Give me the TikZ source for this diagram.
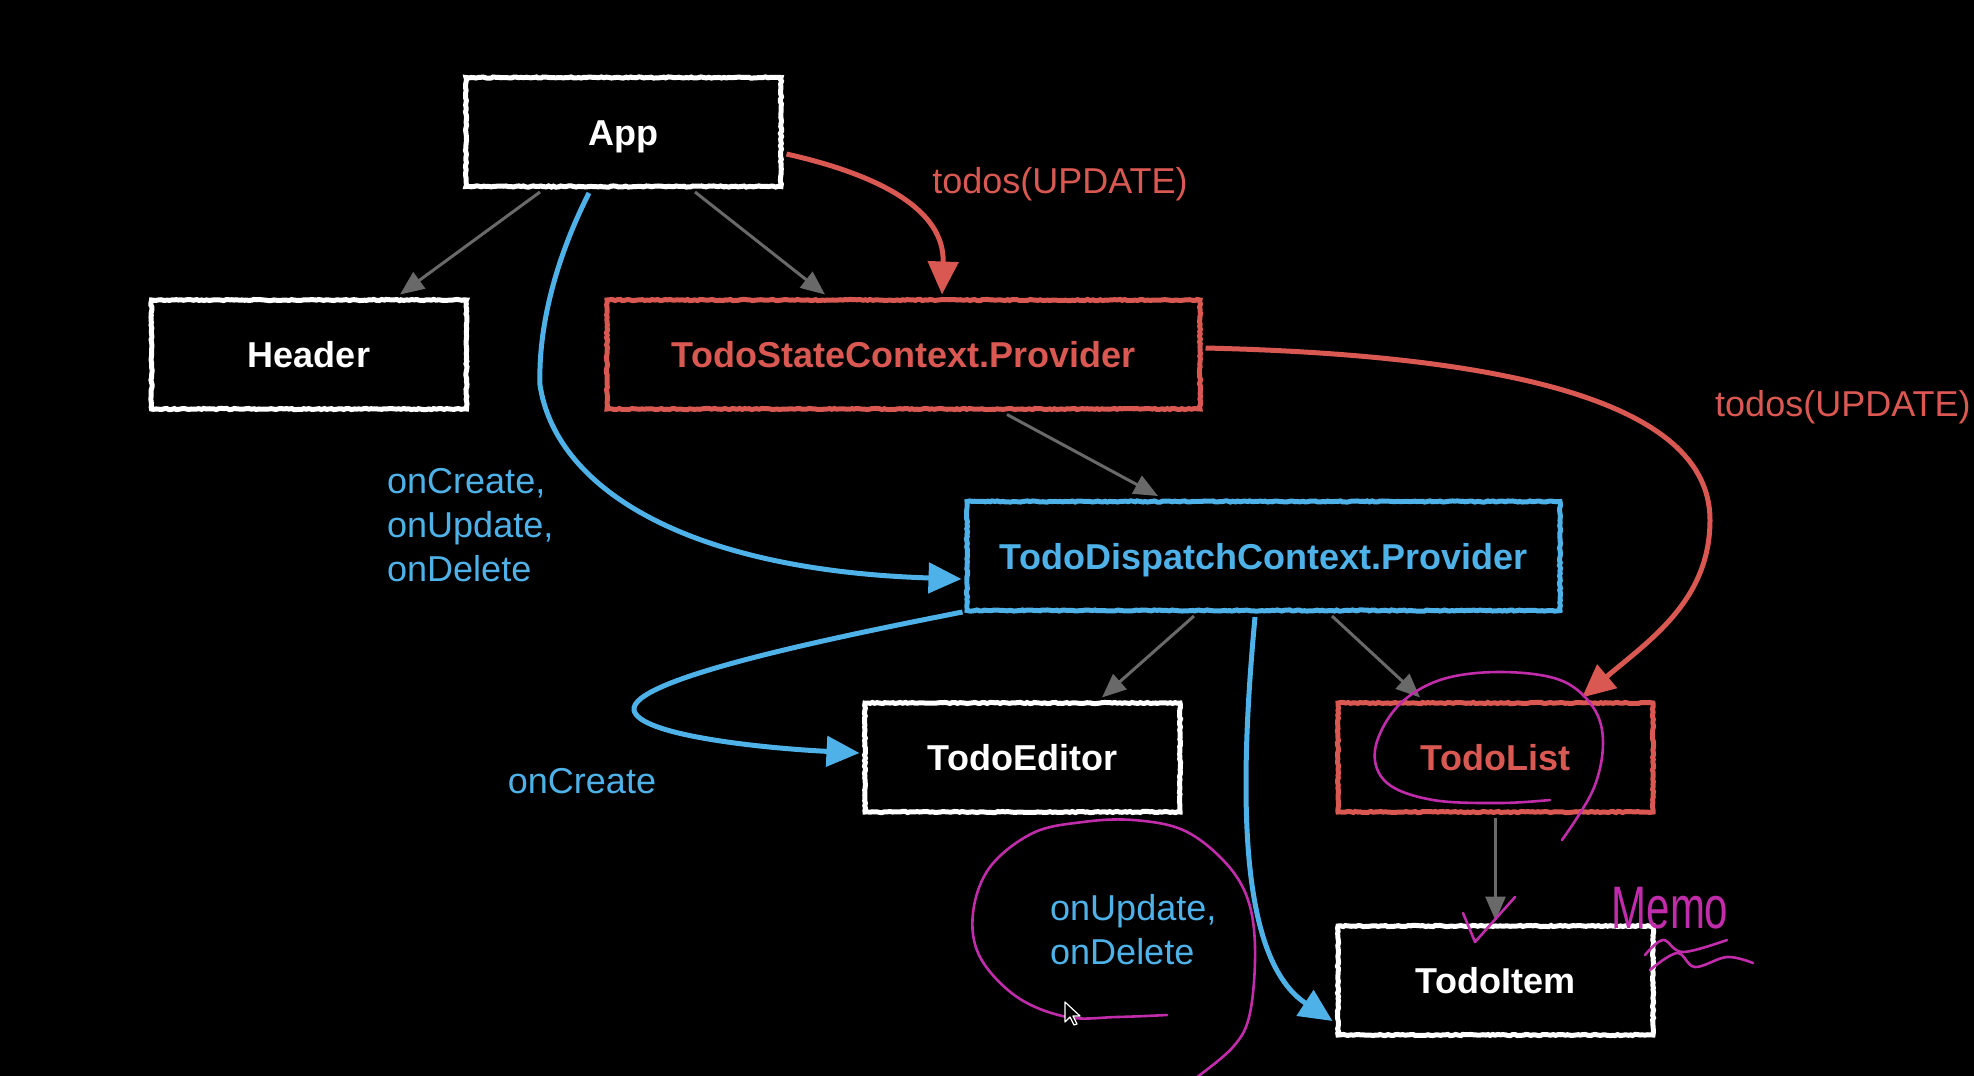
\documentclass[tikz,border=0pt]{standalone}
\usepackage{fontspec}
\setmainfont{Liberation Sans}
\usetikzlibrary{arrows.meta,calc,decorations.pathmorphing}
\definecolor{cred}{RGB}{218,88,82}
\definecolor{cblue}{RGB}{78,178,232}
\definecolor{cgray}{RGB}{105,105,105}
\definecolor{cmag}{RGB}{192,44,170}
\begin{document}
\pgfmathsetseed{7}
\begin{tikzpicture}[x=1pt,y=-1pt,
  box/.style={draw=white, line width=5pt, minimum width=315pt, minimum height=109pt,
    inner sep=0pt, text=white, text height=26pt, text depth=0pt,
    font=\fontsize{36}{43}\selectfont\bfseries,
    decorate, decoration={random steps, segment length=2.5pt, amplitude=0.6pt}},
  widebox/.style={box, minimum width=593pt},
  redbox/.style={draw=cred, text=cred},
  bluebox/.style={draw=cblue, text=cblue},
  lbl/.style={inner sep=0pt, font=\fontsize{36}{44}\selectfont},
  garrow/.style={draw=cgray, line width=3pt, -{Triangle[length=24pt,width=20pt]}},
  carrow/.style={line width=5pt, -{Triangle[length=33pt,width=30pt]}},
  scrib/.style={draw=cmag, line width=2.6pt, line cap=round, line join=round}
]
\fill[black] (0,0) rectangle (1974,1076);
\useasboundingbox (0,0) rectangle (1974,1076);

% boxes
\node[box] (app) at (623.5,132) {App};
\node[box] (header) at (309,354.5) {Header};
\node[widebox, redbox] (tsc) at (903.5,354.5) {TodoStateContext.Provider};
\node[widebox, bluebox] (tdc) at (1263.5,556) {TodoDispatchContext.Provider};
\node[box] (editor) at (1022.5,757.5) {TodoEditor};
\node[box, redbox] (list) at (1495.5,757.5) {TodoList};
\node[box] (item) at (1495.5,980.5) {TodoItem};

% gray tree arrows
\draw[garrow] ($(app.south)+(-83.5,3)$) -- ($(header.north)+(91,-3)$);
\draw[garrow] ($(app.south)+(71.5,3)$) -- ($(tsc.north)+(-78.5,-3)$);
\draw[garrow] ($(tsc.south)+(103.5,3)$) -- ($(tdc.north)+(-105.5,-3)$);
\draw[garrow] ($(tdc.south)+(-69.5,3)$) -- ($(editor.north)+(79.5,-3)$);
\draw[garrow] ($(tdc.south)+(68.5,3)$) -- ($(list.north)+(-75.5,-3)$);
\draw[garrow] ($(list.south)+(0,3)$) -- ($(item.north)+(0,-3)$);

% red arrows
\draw[carrow, draw=cred] ($(app.east)+(3,22)$) .. controls (880,175) and (945,210) .. ($(tsc.north)+(38.5,-3)$);
\draw[carrow, draw=cred] ($(tsc.east)+(3,-6.5)$) .. controls (1500,355) and (1710,400) .. (1710,520)
  .. controls (1710,600) and (1650,640) .. ($(list.north)+(86.5,-3)$);

% blue arrows
\draw[carrow, draw=cblue] ($(app.south)+(-34.5,4)$) .. controls (560,250) and (538,320) .. (540,385)
  .. controls (555,485) and (680,570) .. ($(tdc.west)+(-3,23)$);
\draw[carrow, draw=cblue] ($(tdc.south west)+(-2,-1)$) .. controls (820,640) and (630,680) .. (634,710)
  .. controls (638,735) and (760,748) .. ($(editor.west)+(-3,-4.5)$);
\draw[carrow, draw=cblue] ($(tdc.south)+(-8.5,4)$) .. controls (1238,800) and (1240,960) .. ($(item.west)+(-3,40.5)$);

% labels
\node[lbl, text=cred] (l1) at (1060,184) {todos(UPDATE)};
\node[lbl, text=cred, anchor=west] (l2) at (1715,407) {todos(UPDATE)};
\node[lbl, text=cblue, anchor=west, align=left] (l3) at (387,525) {onCreate,\\onUpdate,\\onDelete};
\node[lbl, text=cblue] (l4) at (582,781) {onCreate};
\node[lbl, text=cblue, anchor=west, align=left] (l5) at (1050,930) {onUpdate,\\onDelete};

% magenta annotations
\draw[scrib] plot[smooth, tension=0.6] coordinates {(1550,800) (1500,803) (1433,800) (1387,783) (1375,750) (1397,707) (1440,680) (1500,672) (1560,680) (1593,707) (1603,743) (1593,790) (1562,840)};
\draw[scrib] plot[smooth, tension=0.6] coordinates {(1167,1015) (1117,1017) (1067,1017) (1017,997) (980,957) (973,913) (990,867) (1033,833) (1083,822) (1133,820) (1183,830) (1223,860) (1247,897) (1255,947) (1250,1013) (1233,1047) (1193,1080)};
\draw[scrib] (1463,913) -- (1475,942) -- (1515,897);
\node[text=cmag, inner sep=0pt, font=\fontsize{40}{40}\selectfont] (memo) at (1670,908) {\scalebox{1.05}[1.5]{Memo}};
\draw[scrib] plot[smooth, tension=0.6] coordinates {(1645,955) (1663,940) (1683,952) (1727,940)};
\draw[scrib] plot[smooth, tension=0.6] coordinates {(1650,970) (1677,953) (1695,967) (1727,957) (1753,963)};

% cursor
\draw[white, fill=black, line width=1.2pt, line join=round]
  (1065,1002) -- (1065,1022) -- (1070,1017) -- (1074,1025) -- (1077,1024) -- (1073,1016) -- (1080,1016) -- cycle;
\end{tikzpicture}
\end{document}
